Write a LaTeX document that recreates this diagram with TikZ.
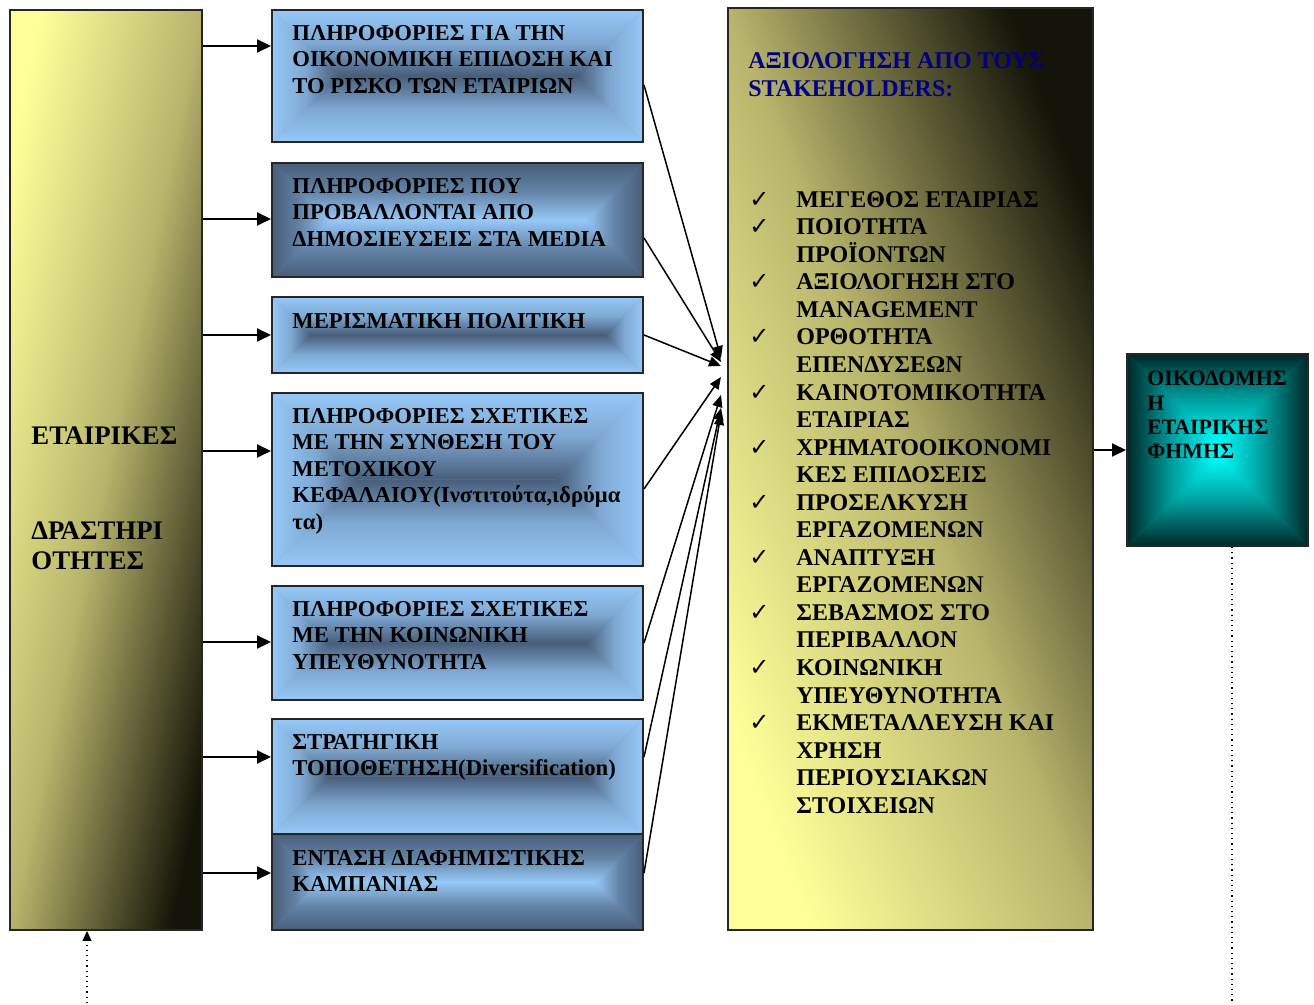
\documentclass[tikz,border=0pt]{standalone}
\usepackage{fontspec}
\setmainfont{Liberation Serif}
\newfontfamily\symfont{DejaVu Sans}
\usepackage{tikz}
\usetikzlibrary{arrows.meta,calc}

\definecolor{infolight}{RGB}{150,200,248}
\definecolor{infoslate}{RGB}{72,94,122}
\definecolor{olivelight}{RGB}{255,255,153}
\definecolor{olivemid}{RGB}{184,180,108}
\definecolor{olivedark}{RGB}{20,20,8}
\definecolor{famecyan}{RGB}{0,255,255}
\definecolor{famedark}{RGB}{0,40,40}
\definecolor{titlenavy}{RGB}{0,0,128}

\newcommand{\chkitem}{\makebox[23.5pt][l]{\symfont\mdseries ✓}}
\newcommand{\chkgap}{\makebox[23.5pt][l]{}}

\begin{document}
\begin{tikzpicture}[x=0.5pt,y=-0.5pt,
        every node/.style={inner sep=0pt},
        box/.style={draw=black!85, line width=1pt},
        % rectangular glow: #1 at the edges, #2 in the middle, #3 share of #1 half way
        glow/.style n args={3}{fill=#1!50!#2, path picture={
            \path let \p1=(path picture bounding box.south west), \p2=(path picture bounding box.north east),
                \n1={min(\x2-\x1,\y2-\y1)/2} in
                coordinate (glow-a) at ({\x1+\n1*1pt},{\y1+\n1*1pt})
                coordinate (glow-b) at ({\x2-\n1*1pt},{\y2-\n1*1pt});
            \shade[top color=#1, bottom color=#2, middle color=#1!#3!#2] (path picture bounding box.north west) -- (path picture bounding box.north east) -- (glow-b) -- (glow-a |- glow-b) -- cycle;
            \shade[top color=#2, bottom color=#1, middle color=#1!#3!#2] (path picture bounding box.south west) -- (path picture bounding box.south east) -- (glow-b |- glow-a) -- (glow-a) -- cycle;
            \shade[left color=#1, right color=#2, middle color=#1!#3!#2] (path picture bounding box.south west) -- (path picture bounding box.north west) -- (glow-a |- glow-b) -- (glow-a) -- cycle;
            \shade[left color=#2, right color=#1, middle color=#1!#3!#2] (path picture bounding box.south east) -- (path picture bounding box.north east) -- (glow-b) -- (glow-b |- glow-a) -- cycle;
        }},
        infobox/.style={box, glow={infolight}{infoslate}{70}, minimum width=185.5pt},
        mediabox/.style={box, glow={infoslate}{infolight}{65}, minimum width=185.5pt},
        txt/.style={anchor=north west, align=left, font=\bfseries\fontsize{11.35}{13.25}\selectfont},
        arr/.style={line width=1pt, -{Triangle[length=7pt,width=6.5pt]}},
        feed/.style={line width=0.75pt, -{Triangle[length=6pt,width=5pt]}},
        dots/.style={dotted, line width=0.6pt}]
        \useasboundingbox (0,0) rectangle (1314,1005);

        % left column
        \node[box, minimum width=96pt, minimum height=460pt, top color=olivelight, bottom color=olivedark, middle color=olivemid, shading angle=78.2] (firm) at (106,470) {};
        \node[txt, font=\bfseries\fontsize{13.4}{15}\selectfont] (firm-t) at ([shift={(22,417)}]firm.north west) {ΕΤΑΙΡΙΚΕΣ\\[32.5pt]ΔΡΑΣΤΗΡΙ\\ΟΤΗΤΕΣ};

        % information boxes
        \node[infobox, minimum height=66pt] (fin) at (457.5,76) {};
        \node[mediabox, minimum height=57pt] (media) at (457.5,220) {};
        \node[infobox, minimum height=38pt] (divid) at (457.5,335) {};
        \node[infobox, minimum height=86.5pt] (share) at (457.5,479.5) {};
        \node[infobox, minimum height=57pt] (social) at (457.5,643) {};
        \node[infobox, minimum height=57.5pt] (strat) at (457.5,776.5) {};
        \node[mediabox, minimum height=48pt] (advert) at (457.5,882) {};

        \node[txt] (fin-t) at ([shift={(21,16)}]fin.north west) {ΠΛΗΡΟΦΟΡΙΕΣ ΓΙΑ ΤΗΝ\\ΟΙΚΟΝΟΜΙΚΗ ΕΠΙΔΟΣΗ ΚΑΙ\\ΤΟ ΡΙΣΚΟ ΤΩΝ ΕΤΑΙΡΙΩΝ};
        \node[txt] (media-t) at ([shift={(21,16)}]media.north west) {ΠΛΗΡΟΦΟΡΙΕΣ ΠΟΥ\\ΠΡΟΒΑΛΛΟΝΤΑΙ ΑΠΟ\\ΔΗΜΟΣΙΕΥΣΕΙΣ ΣΤΑ MEDIA};
        \node[txt] (divid-t) at ([shift={(21,17)}]divid.north west) {ΜΕΡΙΣΜΑΤΙΚΗ ΠΟΛΙΤΙΚΗ};
        \node[txt] (share-t) at ([shift={(21,16)}]share.north west) {ΠΛΗΡΟΦΟΡΙΕΣ ΣΧΕΤΙΚΕΣ\\ΜΕ ΤΗΝ ΣΥΝΘΕΣΗ ΤΟΥ\\ΜΕΤΟΧΙΚΟΥ\\ΚΕΦΑΛΑΙΟΥ(Ινστιτούτα,ιδρύμα\\τα)};
        \node[txt] (social-t) at ([shift={(21,16)}]social.north west) {ΠΛΗΡΟΦΟΡΙΕΣ ΣΧΕΤΙΚΕΣ\\ΜΕ ΤΗΝ ΚΟΙΝΩΝΙΚΗ\\ΥΠΕΥΘΥΝΟΤΗΤΑ};
        \node[txt] (strat-t) at ([shift={(21,16)}]strat.north west) {ΣΤΡΑΤΗΓΙΚΗ\\ΤΟΠΟΘΕΤΗΣΗ(Diversification)};
        \node[txt] (advert-t) at ([shift={(21,17)}]advert.north west) {ΕΝΤΑΣΗ ΔΙΑΦΗΜΙΣΤΙΚΗΣ\\ΚΑΜΠΑΝΙΑΣ};

        % evaluation column
        \node[box, minimum width=182.5pt, minimum height=461pt, top color=olivedark, bottom color=olivelight, middle color=olivemid, shading angle=-68.4] (eval) at (910.5,469) {};
        \node[txt, text=titlenavy, font=\bfseries\fontsize{12}{14}\selectfont] (eval-t) at ([shift={(21,45)}]eval.north west) {ΑΞΙΟΛΟΓΗΣΗ ΑΠΟ ΤΟΥΣ\\STAKEHOLDERS:};
        \node[txt, font=\bfseries\fontsize{12}{13.77}\selectfont] (eval-list) at ([shift={(22,184)}]eval.north west) {%
            \chkitem ΜΕΓΕΘΟΣ ΕΤΑΙΡΙΑΣ\\
            \chkitem ΠΟΙΟΤΗΤΑ\\
            \chkgap ΠΡΟΪΟΝΤΩΝ\\
            \chkitem ΑΞΙΟΛΟΓΗΣΗ ΣΤΟ\\
            \chkgap MANAGEMENT\\
            \chkitem ΟΡΘΟΤΗΤΑ\\
            \chkgap ΕΠΕΝΔΥΣΕΩΝ\\
            \chkitem ΚΑΙΝΟΤΟΜΙΚΟΤΗΤΑ\\
            \chkgap ΕΤΑΙΡΙΑΣ\\
            \chkitem ΧΡΗΜΑΤΟΟΙΚΟΝΟΜΙ\\
            \chkgap ΚΕΣ ΕΠΙΔΟΣΕΙΣ\\
            \chkitem ΠΡΟΣΕΛΚΥΣΗ\\
            \chkgap ΕΡΓΑΖΟΜΕΝΩΝ\\
            \chkitem ΑΝΑΠΤΥΞΗ\\
            \chkgap ΕΡΓΑΖΟΜΕΝΩΝ\\
            \chkitem ΣΕΒΑΣΜΟΣ ΣΤΟ\\
            \chkgap ΠΕΡΙΒΑΛΛΟΝ\\
            \chkitem ΚΟΙΝΩΝΙΚΗ\\
            \chkgap ΥΠΕΥΘΥΝΟΤΗΤΑ\\
            \chkitem ΕΚΜΕΤΑΛΛΕΥΣΗ ΚΑΙ\\
            \chkgap ΧΡΗΣΗ\\
            \chkgap ΠΕΡΙΟΥΣΙΑΚΩΝ\\
            \chkgap ΣΤΟΙΧΕΙΩΝ};

        % reputation box
        \node[box, glow={famedark}{famecyan}{45}, minimum width=90.5pt, minimum height=96pt] (fame) at (1217.5,450) {};
        \node[txt, font=\bfseries\fontsize{10.9}{12.15}\selectfont] (fame-t) at ([shift={(21,18)}]fame.north west) {ΟΙΚΟΔΟΜΗΣ\\Η\\ΕΤΑΙΡΙΚΗΣ\\ΦΗΜΗΣ};

        % arrows into the information boxes
        \foreach \b/\dy in {fin/15, media/0.5, divid/0, share/14.25, social/0.5, strat/9.75, advert/4.5} {
            \coordinate (\b-in) at ([yshift=\dy pt]\b.west);
            \draw[arr] (firm.east |- \b-in) -- (\b-in);
        }

        % arrows into the evaluation
        \foreach \b/\dy/\ty in {fin/-4.5/55.5, media/-9/53.5, divid/0/51.5, share/-4.75/46, social/0/37, strat/9.75/30.5, advert/4.5/28} {
            \coordinate (\b-out) at ([yshift=\dy pt]\b.east);
            \coordinate (\b-tip) at ([xshift=-3pt, yshift=\ty pt]eval.west);
            \draw[feed] (\b-out) -- (\b-tip);
        }

        \draw[arr] (eval.east |- fame.west) -- (fame.west);

        % dotted ends
        \coordinate (fame-out) at ([xshift=7.25pt]fame.south);
        \coordinate (fame-end) at (1232,1003);
        \draw[dots] (fame-out) -- (fame-end);
        \coordinate (firm-src) at (87,1003);
        \draw[dots, -{Triangle[length=5pt,width=4.5pt]}] (firm-src) -- (firm-src |- firm.south);
    \end{tikzpicture}
\end{document}
